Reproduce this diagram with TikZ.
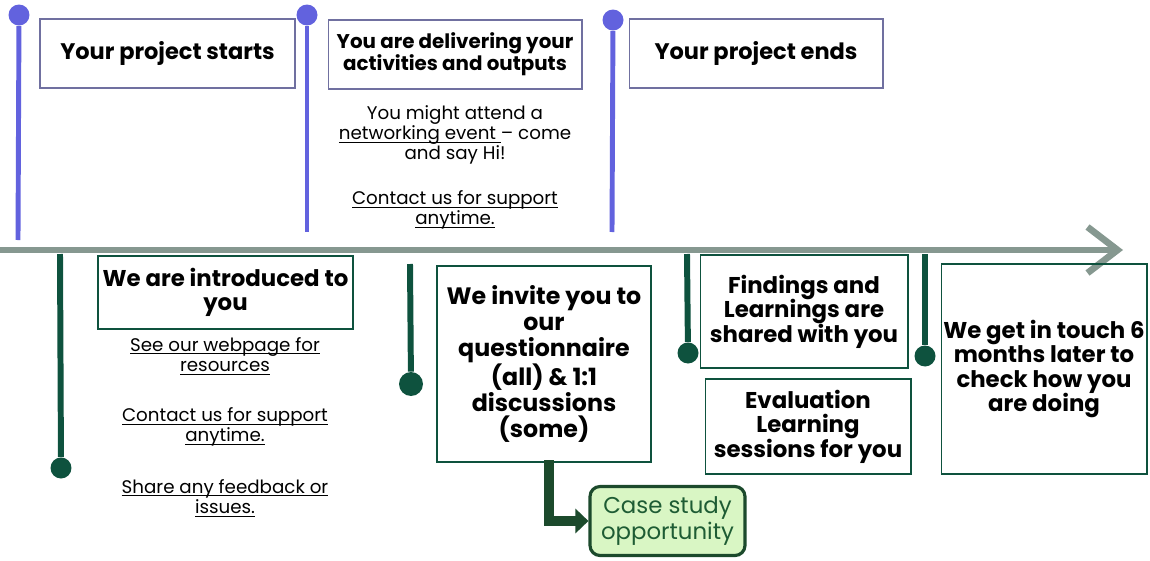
\documentclass[tikz,border=0pt]{standalone}
\usepackage{fontspec}
\setmainfont{Poppins}
\usetikzlibrary{positioning,arrows.meta}
\definecolor{tlPurple}{RGB}{98,98,222}
\definecolor{tlFrame}{RGB}{112,112,160}
\definecolor{tlGreen}{RGB}{14,82,62}
\definecolor{tlGray}{RGB}{134,152,144}
\definecolor{tlMint}{RGB}{217,246,196}
\definecolor{tlDark}{RGB}{28,74,44}
\definecolor{tlText}{RGB}{30,92,52}
% underline that runs through descenders
\newcommand\lnk[1]{\setbox0\hbox{#1}\rlap{\rule[-1.7pt]{\wd0}{0.45pt}}\box0}

\begin{document}
\begin{tikzpicture}[x=0.02cm,y=-0.02cm,
  topbox/.style={draw=tlFrame, line width=0.6pt, align=center, inner xsep=1pt, font=\bfseries\fontsize{12.8}{14}\selectfont},
  botbox/.style={draw=tlGreen, line width=0.6pt, align=center, inner xsep=1pt, font=\bfseries\fontsize{13}{14}\selectfont},
  note/.style={align=center, font=\fontsize{10.4}{11.6}\selectfont},
  pdot/.style={circle, fill=tlPurple, inner sep=0pt, minimum size=0.42cm},
  gdot/.style={circle, fill=tlGreen, inner sep=0pt, minimum size=0.42cm},
  pline/.style={tlPurple, line width=2.8pt},
  gline/.style={tlGreen, line width=3.4pt}]
  \useasboundingbox (0,0) rectangle (1150,561);

  % time axis
  \coordinate (ax0) at (0,250);
  \coordinate (ax1) at (1123,250);
  \draw[tlGray, line width=3.8pt, -{Straight Barb[length=0.6cm,width=0.92cm]}] (ax0) -- (ax1);

  % purple milestones above the axis
  \node[pdot] (p1) at (19,15) {};
  \coordinate (p1b) at (18,240);
  \draw[pline] (p1) -- (p1b);
  \node[pdot] (p2) at (307,15) {};
  \coordinate (p2b) at (307,232);
  \draw[pline] (p2) -- (p2b);
  \node[pdot] (p3) at (613,20) {};
  \coordinate (p3b) at (612,232);
  \draw[pline] (p3) -- (p3b);

  \node[topbox, minimum width=5.1cm, minimum height=1.38cm] (starts) at (167.5,53.5) {Your project starts};
  \node[topbox, minimum width=5.08cm, minimum height=1.38cm, font=\bfseries\fontsize{11.3}{12.5}\selectfont] (deliver) at (455,54.5) {You are delivering your\\activities and outputs};
  \node[topbox, minimum width=5.08cm, minimum height=1.38cm] (ends) at (756,53.5) {Your project ends};

  \node[note] (network) at (455,135) {You might attend a\\\lnk{networking event }– come\\and say Hi!};
  \node[note] (contact1) at (455,210) {\lnk{Contact us for support}\\\lnk{anytime.}};

  % green milestones below the axis
  \coordinate (g1t) at (60,254);
  \node[gdot] (g1) at (61,468) {};
  \draw[gline] (g1t) -- (g1);
  \coordinate (g2t) at (410,264);
  \node[gdot, minimum size=0.48cm] (g2) at (411,384) {};
  \draw[gline] (g2t) -- (g2);
  \coordinate (g3t) at (687,254);
  \node[gdot] (g3) at (688,353) {};
  \draw[gline] (g3t) -- (g3);
  \coordinate (g4t) at (925,254);
  \node[gdot] (g4) at (925,356) {};
  \draw[gline] (g4t) -- (g4);

  \node[botbox, minimum width=5.1cm, minimum height=1.46cm] (intro) at (225.5,292.5) {We are introduced to\\you};
  \node[note] (webpage) at (225,356) {\lnk{See our webpage for}\\\lnk{resources}};
  \node[note] (contact2) at (225,427) {\lnk{Contact us for support}\\\lnk{anytime.}};
  \node[note] (feedback) at (225,498) {\lnk{Share any feedback or}\\\lnk{issues.}};

  \node[botbox, minimum width=4.28cm, minimum height=3.92cm, font=\bfseries\fontsize{13.5}{14.8}\selectfont] (invite) at (544,364) {We invite you to\\our\\questionnaire\\(all) \& 1:1\\discussions\\(some)};
  \node[botbox, minimum width=4.16cm, minimum height=2.26cm] (findings) at (804,311.5) {Findings and\\Learnings are\\shared with you};
  \node[botbox, minimum width=4.12cm, minimum height=1.9cm] (evaluation) at (808,426.5) {Evaluation\\Learning\\sessions for you};
  \node[botbox, minimum width=4.12cm, minimum height=4.2cm] (touch) at (1044,369) {We get in touch 6\\months later to\\check how you\\are doing};

  % case study branch
  \node[draw=tlDark, line width=1.8pt, fill=tlMint, rounded corners=0.2cm, minimum width=3.1cm, minimum height=1.38cm, align=center, text=tlText, font=\fontsize{13}{14.5}\selectfont] (case) at (667.5,521) {Case study\\opportunity};
  \coordinate (e1) at (549,460);
  \draw[tlDark, line width=5.4pt, -{Triangle[length=0.26cm,width=0.48cm]}] (e1) |- (case.west);
\end{tikzpicture}
\end{document}
